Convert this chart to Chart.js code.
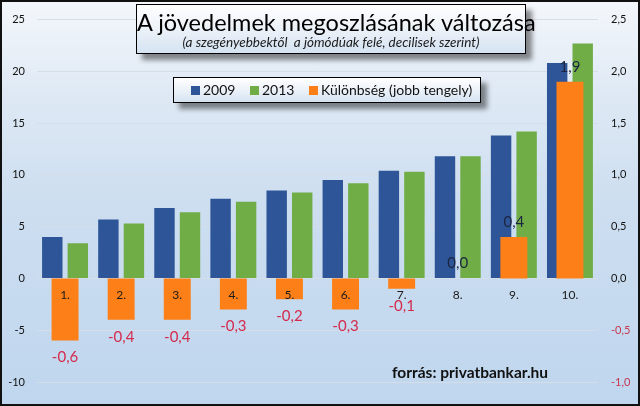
<!DOCTYPE html>
<html>
<head>
<meta charset="utf-8">
<script src="https://cdn.jsdelivr.net/npm/chart.js@4.4.0/dist/chart.umd.min.js"></script>
<style>
  html, body { margin: 0; padding: 0; }
  #wrap {
    position: relative; width: 640px; height: 406px; overflow: hidden;
    background: linear-gradient(to bottom, #f4f7fb 0%, #dde8f4 25%, #cddef0 50%, #bfd6ee 100%);
    font-family: Lato, "Open Sans", sans-serif;
  }
  #chart { position: absolute; left: 0; top: 0; }
  #frame { position: absolute; left: 0; top: 0; width: 640px; height: 406px; border: 2px solid #111; box-sizing: border-box; pointer-events: none; }
  .box {
    position: absolute; box-sizing: border-box; border: 1px solid #000;
    background: linear-gradient(to bottom, #ffffff 0%, #eef3f9 45%, #d5e3f2 100%);
    box-shadow: 6px 6px 5px rgba(0, 0, 0, 0.45);
  }
  #titleBox { left: 136px; top: 4px; width: 390px; height: 50px; text-align: center; white-space: nowrap; }
  #title { font-size: 23.5px; line-height: 26px; margin-top: 4px; color: #000; }
  #subtitle { font-size: 13.5px; line-height: 15px; margin-top: 0px; font-style: italic; color: #1a1a1a; }
  #legendBox { left: 173px; top: 77px; width: 308px; height: 26px; }
  .item { position: absolute; top: 3px; font-size: 14px; line-height: 18px; color: #111; white-space: nowrap; }
  .sw { display: inline-block; width: 9px; height: 9px; margin-right: 3px; vertical-align: 0px; }
  #source { position: absolute; left: 392px; top: 363px; font-weight: bold; font-size: 15.5px; color: #111; white-space: nowrap; }
</style>
</head>
<body>
<div id="wrap">
  <canvas id="chart" width="640" height="406"></canvas>
  <div class="box" id="titleBox">
    <div id="title">A jövedelmek megoszlásának változása</div>
    <div id="subtitle">(a szegényebbektől&nbsp; a jómódúak felé, decilisek szerint)</div>
  </div>
  <div class="box" id="legendBox"></div>
  <div id="source">forrás: privatbankar.hu</div>
  <div id="frame"></div>
</div>
<script>
const categories = ['1.', '2.', '3.', '4.', '5.', '6.', '7.', '8.', '9.', '10.'];
const values2009 = [4.0, 5.7, 6.8, 7.7, 8.5, 9.5, 10.4, 11.8, 13.8, 20.8];
const values2013 = [3.4, 5.3, 6.4, 7.4, 8.3, 9.2, 10.3, 11.8, 14.2, 22.7];
const difference = [-0.6, -0.4, -0.4, -0.3, -0.2, -0.3, -0.1, 0.0, 0.4, 1.9];
const seriesNames = ['2009', '2013', 'Különbség (jobb tengely)'];
const seriesColors = ['#2e5597', '#70ad47', '#fd7f17'];
const leftAxis = { min: -10, max: 25, step: 5 };
const rightAxis = { min: -1, max: 2.5, step: 0.5 };

const comma = v => v.toFixed(1).replace('.', ',');

// legend in the boxed overlay, built from the series
const legendLeft = [17, 76, 135];
const legendBox = document.getElementById('legendBox');
seriesNames.forEach((name, i) => {
    const item = document.createElement('div');
    item.className = 'item';
    item.style.left = legendLeft[i] + 'px';
    const sw = document.createElement('span');
    sw.className = 'sw';
    sw.style.background = seriesColors[i];
    item.appendChild(sw);
    item.appendChild(document.createTextNode(name));
    legendBox.appendChild(item);
});

const labelPlugin = {
    id: 'barLabels',
    afterDatasetsDraw(chart) {
        const ctx = chart.ctx;
        const zeroY = chart.scales.y2.getPixelForValue(0);
        const diffMeta = chart.getDatasetMeta(2);
        ctx.save();
        ctx.textAlign = 'center';
        ctx.textBaseline = 'middle';
        ctx.font = '12px Lato';
        ctx.fillStyle = '#1a1a1a';
        categories.forEach((c, i) => {
            ctx.fillText(c, chart.scales.x.getPixelForValue(i), zeroY + 16.5);
        });
        ctx.font = '15px Lato';
        difference.forEach((v, i) => {
            const bar = diffMeta.data[i];
            if (v < 0) {
                ctx.fillStyle = '#d42a4c';
                ctx.fillText(comma(v), bar.x, bar.y + 17);
            } else {
                ctx.fillStyle = '#1c2540';
                ctx.fillText(comma(v), bar.x, bar.y - 15);
            }
        });
        ctx.restore();
    }
};

new Chart(document.getElementById('chart'), {
    type: 'bar',
    data: {
        labels: categories,
        datasets: [
            { label: seriesNames[0], data: values2009, backgroundColor: seriesColors[0], yAxisID: 'y',
              order: 1, categoryPercentage: 0.91, barPercentage: 0.8 },
            { label: seriesNames[1], data: values2013, backgroundColor: seriesColors[1], yAxisID: 'y',
              order: 1, categoryPercentage: 0.91, barPercentage: 0.8 },
            { label: seriesNames[2], data: difference, backgroundColor: seriesColors[2], yAxisID: 'y2',
              order: 0, grouped: false, categoryPercentage: 1, barPercentage: 0.48 }
        ]
    },
    options: {
        responsive: false,
        animation: false,
        layout: { padding: { top: 15, bottom: 24, left: 0, right: 0 } },
        plugins: {
            legend: { display: false },
            tooltip: { enabled: false }
        },
        scales: {
            x: { display: false },
            y: {
                position: 'left',
                min: leftAxis.min, max: leftAxis.max,
                afterFit: s => { s.width = 37; },
                border: { display: false },
                grid: { color: '#d5dee8', drawTicks: false },
                ticks: { stepSize: leftAxis.step, padding: 12, color: '#111', font: { family: 'Lato', size: 11 } }
            },
            y2: {
                position: 'right',
                min: rightAxis.min, max: rightAxis.max,
                afterFit: s => { s.width = 42; },
                border: { display: false },
                grid: { display: false, drawTicks: false },
                ticks: {
                    stepSize: rightAxis.step, padding: 13,
                    font: { family: 'Lato', size: 11 },
                    color: c => c.tick.value < 0 ? '#c8374f' : '#111',
                    callback: v => comma(v)
                }
            }
        }
    },
    plugins: [labelPlugin]
});
</script>
</body>
</html>
